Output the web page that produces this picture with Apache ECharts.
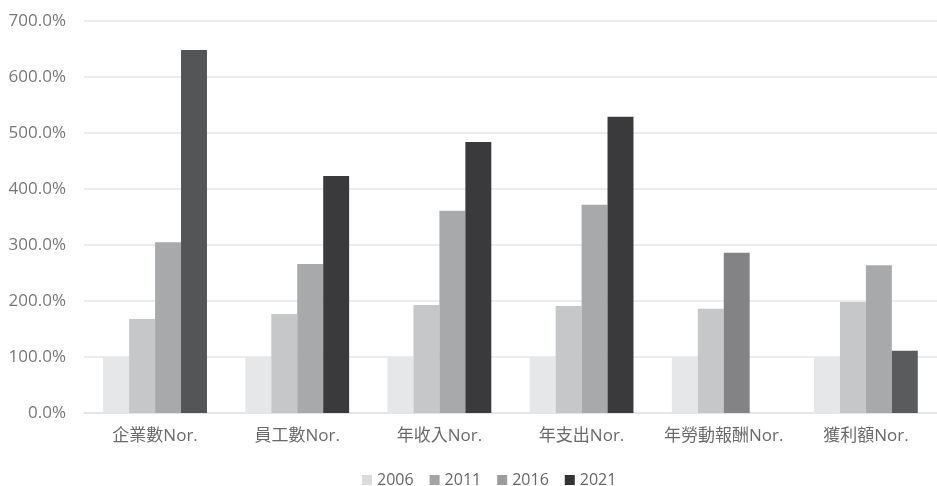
<!DOCTYPE html>
<html><head><meta charset="utf-8">
<script src="https://cdn.jsdelivr.net/npm/echarts@6/dist/echarts.min.js"></script>
<style>html,body{margin:0;padding:0;background:#fff}#c{width:937px;height:486px}</style>
</head><body><div id="c"></div>
<script>
const categories = ['企業數Nor.', '員工數Nor.', '年收入Nor.', '年支出Nor.', '年勞動報酬Nor.', '獲利額Nor.'];
const years = ['2006', '2011', '2016', '2021'];
const v2006 = [100, 100, 100, 100, 100, 100];
const v2011 = [168, 177, 193, 191, 186, 198];
const v2016 = [305, 266, 361, 372, 286, 264];
const v2021 = [648, 423, 484, 529, null, 111];
const yTicks = [0, 100, 200, 300, 400, 500, 600, 700];

const baseColors = ['#e6e7e8', '#c6c7c9', '#a8a9ab', '#3a3a3c'];
const legendColors = ['#dcdcdc', '#a3a3a5', '#9c9c9e', '#343436'];
// per-bar shade overrides seen in the picture
const overrides = {'2016': {4: '#838385'}, '2021': {0: '#545557', 5: '#5a5b5d'}};

const seriesVals = [v2006, v2011, v2016, v2021];
const series = years.map((y, i) => ({
  name: y, type: 'bar', barGap: '0%', barCategoryGap: '27%',
  itemStyle: {color: baseColors[i]},
  data: seriesVals[i].map((v, j) => {
    const o = overrides[y] && overrides[y][j];
    return o ? {value: v, itemStyle: {color: o}} : v;
  })
}));

const FONT = '"Open Sans", "Noto Sans CJK TC", sans-serif';
const chart = echarts.init(document.getElementById('c'));
chart.setOption({
  animation: false,
  textStyle: {fontFamily: FONT},
  grid: {left: 84, right: 0, top: 21, bottom: 73},
  legend: {
    top: 467, left: 357, itemWidth: 10, itemHeight: 10, itemGap: 16,
    icon: 'rect',
    textStyle: {color: '#666', fontSize: 16, fontFamily: FONT},
    data: years.map((y, i) => ({name: y, itemStyle: {color: legendColors[i]}}))
  },
  xAxis: {
    type: 'category', data: categories,
    axisLine: {lineStyle: {color: '#e2e2e2', width: 1.5}},
    axisTick: {show: false},
    axisLabel: {color: '#6a6a6a', fontSize: 17, margin: 15, interval: 0, fontFamily: FONT}
  },
  yAxis: {
    type: 'value', min: yTicks[0], max: yTicks[yTicks.length - 1], interval: 100,
    axisLine: {show: false}, axisTick: {show: false},
    splitLine: {lineStyle: {color: '#e6e6e6', width: 1.5}},
    axisLabel: {color: '#777', fontSize: 17, margin: 18, fontFamily: FONT, formatter: v => v.toFixed(1) + '%'}
  },
  series: series
});
</script></body></html>
